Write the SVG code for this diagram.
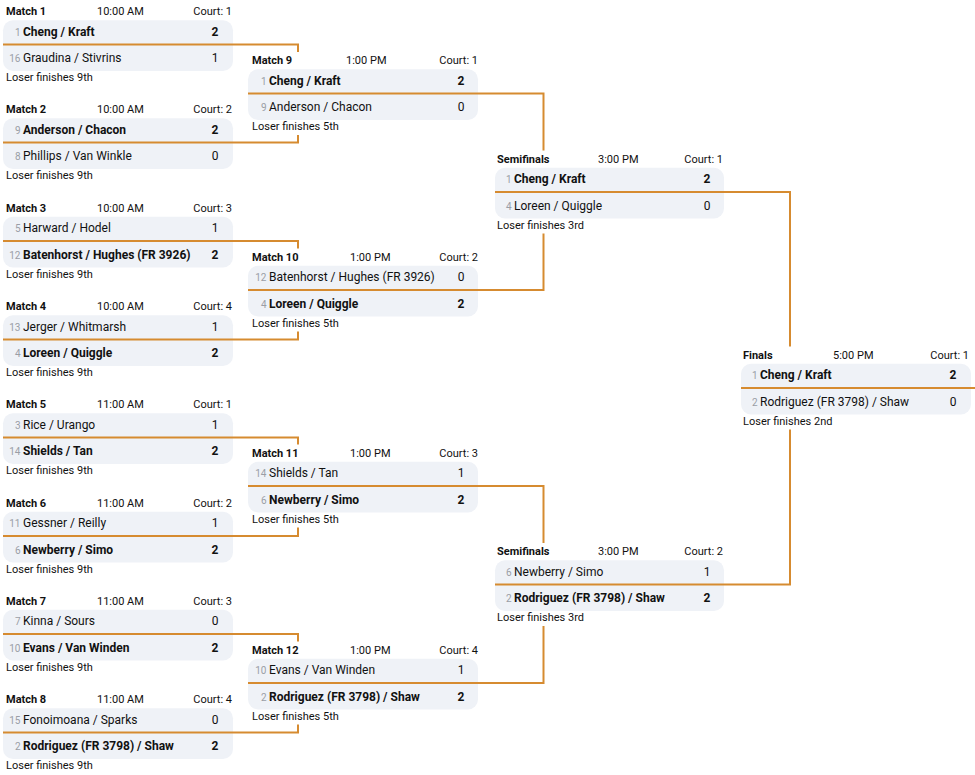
<svg xmlns="http://www.w3.org/2000/svg" width="975" height="775" viewBox="0 0 975 775">
<style>
text{font-family:Roboto,"Liberation Sans",sans-serif;fill:#111}
.hl{font-size:11px;font-weight:bold}
.ht{font-size:11px}
.hc{font-size:11px;text-anchor:end}
.box{fill:#eff2f7}
.div{stroke:#d68b30;stroke-width:2}
.seed{font-size:10px;fill:#9a9ea6;text-anchor:end}
.nm{font-size:12px}
.sc{font-size:12px;text-anchor:middle}
.b{font-weight:bold}
.lo{font-size:11px}
.con{fill:none;stroke:#d68b30;stroke-width:2}
</style>
<rect width="975" height="775" fill="#fff"/>
<g id="connectors">
<path class="con" d="M233 44.5H298V52"/>
<path class="con" d="M233 142.5H298V135"/>
<path class="con" d="M233 241H298V248.5"/>
<path class="con" d="M233 339.5H298V331.5"/>
<path class="con" d="M233 437.5H298V444.5"/>
<path class="con" d="M233 536H298V527.5"/>
<path class="con" d="M233 634H298V641.5"/>
<path class="con" d="M233 732.5H298V724.5"/>
<path class="con" d="M478 93.5H543.5V150.5"/>
<path class="con" d="M478 290H543.5V233.5"/>
<path class="con" d="M478 486H543.5V543"/>
<path class="con" d="M478 683H543.5V626"/>
<path class="con" d="M724 192H790V346.5"/>
<path class="con" d="M724 584.5H790V429.5"/>
<path class="con" d="M971 388H985"/>
</g>
<g id="m1" transform="translate(3,44.5)">
<text class="hl" x="3" y="-29.5">Match 1</text><text class="ht" x="94" y="-29.5">10:00 AM</text><text class="hc" x="229" y="-29.5">Court: 1</text>
<rect class="box" y="-24.3" width="230" height="50.7" rx="10"/><line class="div" x2="230"/>
<text class="seed" x="17.5" y="-9">1</text><text class="nm b" x="20" y="-9">Cheng / Kraft</text><text class="sc b" x="212" y="-9">2</text>
<text class="seed" x="17.5" y="17.5">16</text><text class="nm" x="20" y="17.5">Graudina / Stivrins</text><text class="sc" x="212" y="17.5">1</text>
<text class="lo" x="3" y="36.5">Loser finishes 9th</text>
</g>
<g id="m2" transform="translate(3,142.5)">
<text class="hl" x="3" y="-29.5">Match 2</text><text class="ht" x="94" y="-29.5">10:00 AM</text><text class="hc" x="229" y="-29.5">Court: 2</text>
<rect class="box" y="-24.3" width="230" height="50.7" rx="10"/><line class="div" x2="230"/>
<text class="seed" x="17.5" y="-9">9</text><text class="nm b" x="20" y="-9">Anderson / Chacon</text><text class="sc b" x="212" y="-9">2</text>
<text class="seed" x="17.5" y="17.5">8</text><text class="nm" x="20" y="17.5">Phillips / Van Winkle</text><text class="sc" x="212" y="17.5">0</text>
<text class="lo" x="3" y="36.5">Loser finishes 9th</text>
</g>
<g id="m3" transform="translate(3,241)">
<text class="hl" x="3" y="-29.5">Match 3</text><text class="ht" x="94" y="-29.5">10:00 AM</text><text class="hc" x="229" y="-29.5">Court: 3</text>
<rect class="box" y="-24.3" width="230" height="50.7" rx="10"/><line class="div" x2="230"/>
<text class="seed" x="17.5" y="-9">5</text><text class="nm" x="20" y="-9">Harward / Hodel</text><text class="sc" x="212" y="-9">1</text>
<text class="seed" x="17.5" y="17.5">12</text><text class="nm b" x="20" y="17.5">Batenhorst / Hughes (FR 3926)</text><text class="sc b" x="212" y="17.5">2</text>
<text class="lo" x="3" y="36.5">Loser finishes 9th</text>
</g>
<g id="m4" transform="translate(3,339.5)">
<text class="hl" x="3" y="-29.5">Match 4</text><text class="ht" x="94" y="-29.5">10:00 AM</text><text class="hc" x="229" y="-29.5">Court: 4</text>
<rect class="box" y="-24.3" width="230" height="50.7" rx="10"/><line class="div" x2="230"/>
<text class="seed" x="17.5" y="-9">13</text><text class="nm" x="20" y="-9">Jerger / Whitmarsh</text><text class="sc" x="212" y="-9">1</text>
<text class="seed" x="17.5" y="17.5">4</text><text class="nm b" x="20" y="17.5">Loreen / Quiggle</text><text class="sc b" x="212" y="17.5">2</text>
<text class="lo" x="3" y="36.5">Loser finishes 9th</text>
</g>
<g id="m5" transform="translate(3,437.5)">
<text class="hl" x="3" y="-29.5">Match 5</text><text class="ht" x="94" y="-29.5">11:00 AM</text><text class="hc" x="229" y="-29.5">Court: 1</text>
<rect class="box" y="-24.3" width="230" height="50.7" rx="10"/><line class="div" x2="230"/>
<text class="seed" x="17.5" y="-9">3</text><text class="nm" x="20" y="-9">Rice / Urango</text><text class="sc" x="212" y="-9">1</text>
<text class="seed" x="17.5" y="17.5">14</text><text class="nm b" x="20" y="17.5">Shields / Tan</text><text class="sc b" x="212" y="17.5">2</text>
<text class="lo" x="3" y="36.5">Loser finishes 9th</text>
</g>
<g id="m6" transform="translate(3,536)">
<text class="hl" x="3" y="-29.5">Match 6</text><text class="ht" x="94" y="-29.5">11:00 AM</text><text class="hc" x="229" y="-29.5">Court: 2</text>
<rect class="box" y="-24.3" width="230" height="50.7" rx="10"/><line class="div" x2="230"/>
<text class="seed" x="17.5" y="-9">11</text><text class="nm" x="20" y="-9">Gessner / Reilly</text><text class="sc" x="212" y="-9">1</text>
<text class="seed" x="17.5" y="17.5">6</text><text class="nm b" x="20" y="17.5">Newberry / Simo</text><text class="sc b" x="212" y="17.5">2</text>
<text class="lo" x="3" y="36.5">Loser finishes 9th</text>
</g>
<g id="m7" transform="translate(3,634)">
<text class="hl" x="3" y="-29.5">Match 7</text><text class="ht" x="94" y="-29.5">11:00 AM</text><text class="hc" x="229" y="-29.5">Court: 3</text>
<rect class="box" y="-24.3" width="230" height="50.7" rx="10"/><line class="div" x2="230"/>
<text class="seed" x="17.5" y="-9">7</text><text class="nm" x="20" y="-9">Kinna / Sours</text><text class="sc" x="212" y="-9">0</text>
<text class="seed" x="17.5" y="17.5">10</text><text class="nm b" x="20" y="17.5">Evans / Van Winden</text><text class="sc b" x="212" y="17.5">2</text>
<text class="lo" x="3" y="36.5">Loser finishes 9th</text>
</g>
<g id="m8" transform="translate(3,732.5)">
<text class="hl" x="3" y="-29.5">Match 8</text><text class="ht" x="94" y="-29.5">11:00 AM</text><text class="hc" x="229" y="-29.5">Court: 4</text>
<rect class="box" y="-24.3" width="230" height="50.7" rx="10"/><line class="div" x2="230"/>
<text class="seed" x="17.5" y="-9">15</text><text class="nm" x="20" y="-9">Fonoimoana / Sparks</text><text class="sc" x="212" y="-9">0</text>
<text class="seed" x="17.5" y="17.5">2</text><text class="nm b" x="20" y="17.5">Rodriguez (FR 3798) / Shaw</text><text class="sc b" x="212" y="17.5">2</text>
<text class="lo" x="3" y="36.5">Loser finishes 9th</text>
</g>
<g id="m9" transform="translate(248,93.5)">
<text class="hl" x="4" y="-29.5">Match 9</text><text class="ht" x="98" y="-29.5">1:00 PM</text><text class="hc" x="230" y="-29.5">Court: 1</text>
<rect class="box" y="-24.3" width="230" height="50.7" rx="10"/><line class="div" x2="230"/>
<text class="seed" x="18.5" y="-9">1</text><text class="nm b" x="21" y="-9">Cheng / Kraft</text><text class="sc b" x="213" y="-9">2</text>
<text class="seed" x="18.5" y="17.5">9</text><text class="nm" x="21" y="17.5">Anderson / Chacon</text><text class="sc" x="213" y="17.5">0</text>
<text class="lo" x="4" y="36.5">Loser finishes 5th</text>
</g>
<g id="m10" transform="translate(248,290)">
<text class="hl" x="4" y="-29.5">Match 10</text><text class="ht" x="102" y="-29.5">1:00 PM</text><text class="hc" x="230" y="-29.5">Court: 2</text>
<rect class="box" y="-24.3" width="230" height="50.7" rx="10"/><line class="div" x2="230"/>
<text class="seed" x="18.5" y="-9">12</text><text class="nm" x="21" y="-9">Batenhorst / Hughes (FR 3926)</text><text class="sc" x="213" y="-9">0</text>
<text class="seed" x="18.5" y="17.5">4</text><text class="nm b" x="21" y="17.5">Loreen / Quiggle</text><text class="sc b" x="213" y="17.5">2</text>
<text class="lo" x="4" y="36.5">Loser finishes 5th</text>
</g>
<g id="m11" transform="translate(248,486)">
<text class="hl" x="4" y="-29.5">Match 11</text><text class="ht" x="102" y="-29.5">1:00 PM</text><text class="hc" x="230" y="-29.5">Court: 3</text>
<rect class="box" y="-24.3" width="230" height="50.7" rx="10"/><line class="div" x2="230"/>
<text class="seed" x="18.5" y="-9">14</text><text class="nm" x="21" y="-9">Shields / Tan</text><text class="sc" x="213" y="-9">1</text>
<text class="seed" x="18.5" y="17.5">6</text><text class="nm b" x="21" y="17.5">Newberry / Simo</text><text class="sc b" x="213" y="17.5">2</text>
<text class="lo" x="4" y="36.5">Loser finishes 5th</text>
</g>
<g id="m12" transform="translate(248,683)">
<text class="hl" x="4" y="-29.5">Match 12</text><text class="ht" x="102" y="-29.5">1:00 PM</text><text class="hc" x="230" y="-29.5">Court: 4</text>
<rect class="box" y="-24.3" width="230" height="50.7" rx="10"/><line class="div" x2="230"/>
<text class="seed" x="18.5" y="-9">10</text><text class="nm" x="21" y="-9">Evans / Van Winden</text><text class="sc" x="213" y="-9">1</text>
<text class="seed" x="18.5" y="17.5">2</text><text class="nm b" x="21" y="17.5">Rodriguez (FR 3798) / Shaw</text><text class="sc b" x="213" y="17.5">2</text>
<text class="lo" x="4" y="36.5">Loser finishes 5th</text>
</g>
<g id="sf1" transform="translate(495,192)">
<text class="hl" x="2" y="-29.5">Semifinals</text><text class="ht" x="103" y="-29.5">3:00 PM</text><text class="hc" x="228" y="-29.5">Court: 1</text>
<rect class="box" y="-24.3" width="229" height="50.7" rx="10"/><line class="div" x2="229"/>
<text class="seed" x="16.5" y="-9">1</text><text class="nm b" x="19" y="-9">Cheng / Kraft</text><text class="sc b" x="212" y="-9">2</text>
<text class="seed" x="16.5" y="17.5">4</text><text class="nm" x="19" y="17.5">Loreen / Quiggle</text><text class="sc" x="212" y="17.5">0</text>
<text class="lo" x="2" y="36.5">Loser finishes 3rd</text>
</g>
<g id="sf2" transform="translate(495,584.5)">
<text class="hl" x="2" y="-29.5">Semifinals</text><text class="ht" x="103" y="-29.5">3:00 PM</text><text class="hc" x="228" y="-29.5">Court: 2</text>
<rect class="box" y="-24.3" width="229" height="50.7" rx="10"/><line class="div" x2="229"/>
<text class="seed" x="16.5" y="-9">6</text><text class="nm" x="19" y="-9">Newberry / Simo</text><text class="sc" x="212" y="-9">1</text>
<text class="seed" x="16.5" y="17.5">2</text><text class="nm b" x="19" y="17.5">Rodriguez (FR 3798) / Shaw</text><text class="sc b" x="212" y="17.5">2</text>
<text class="lo" x="2" y="36.5">Loser finishes 3rd</text>
</g>
<g id="final" transform="translate(741,388)">
<text class="hl" x="2" y="-29.5">Finals</text><text class="ht" x="92" y="-29.5">5:00 PM</text><text class="hc" x="228" y="-29.5">Court: 1</text>
<rect class="box" y="-24.3" width="230" height="50.7" rx="10"/><line class="div" x2="230"/>
<text class="seed" x="16.5" y="-9">1</text><text class="nm b" x="19" y="-9">Cheng / Kraft</text><text class="sc b" x="212" y="-9">2</text>
<text class="seed" x="16.5" y="17.5">2</text><text class="nm" x="19" y="17.5">Rodriguez (FR 3798) / Shaw</text><text class="sc" x="212" y="17.5">0</text>
<text class="lo" x="2" y="36.5">Loser finishes 2nd</text>
</g>
</svg>
